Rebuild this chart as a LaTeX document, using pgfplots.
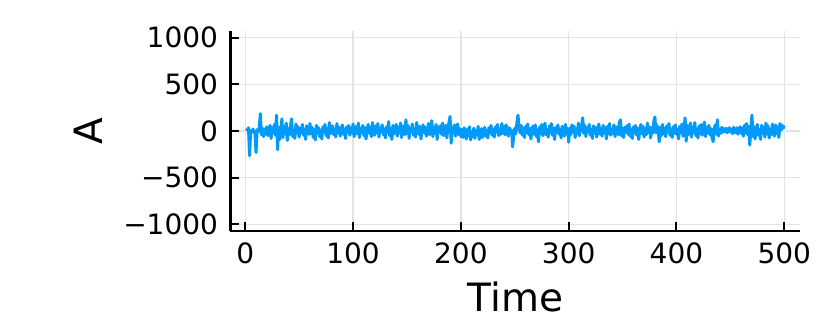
\documentclass[border=0pt]{standalone}
\usepackage{fontspec}
\setmainfont{DejaVu Sans}
\usepackage{pgfplots}
\usepackage{pgfplotstable}
\pgfplotsset{compat=1.18}
\definecolor{series1}{RGB}{0,154,250}

\pgfplotstableread[row sep=\\]{
y\\
25\\ 10\\ 35\\ -265\\ 5\\ -15\\ 20\\ 0\\ -25\\ -230\\
15\\ -10\\ 40\\ 185\\ -40\\ 30\\ -60\\ 20\\ -30\\ 45\\
-50\\ 10\\ 60\\ -80\\ 35\\ -20\\ 70\\ -45\\ 170\\ -200\\
40\\ -90\\ 20\\ 130\\ -70\\ 50\\ -30\\ 85\\ -100\\ 25\\
-40\\ 60\\ 130\\ -60\\ 10\\ -80\\ 75\\ -20\\ 45\\ -65\\
30\\ -15\\ 70\\ -45\\ 20\\ -90\\ 55\\ 5\\ -35\\ 80\\
-25\\ 40\\ -70\\ 15\\ -95\\ 60\\ -20\\ 35\\ -60\\ 10\\
-85\\ 45\\ -10\\ 70\\ -50\\ 25\\ -75\\ 90\\ -30\\ 15\\
55\\ -40\\ 20\\ -65\\ 80\\ -15\\ 40\\ -55\\ 5\\ 65\\
-35\\ 20\\ -80\\ 45\\ -10\\ 60\\ -45\\ 30\\ -20\\ 75\\
-60\\ 10\\ 50\\ -30\\ 85\\ -70\\ 25\\ -15\\ 60\\ -50\\
35\\ -85\\ 15\\ 70\\ -25\\ 40\\ -60\\ 90\\ -10\\ -45\\
55\\ -20\\ 80\\ -65\\ 30\\ -5\\ 65\\ -40\\ 20\\ -75\\
45\\ -15\\ 100\\ -50\\ 25\\ -90\\ 60\\ -30\\ 10\\ 70\\
-55\\ 35\\ -20\\ 85\\ -70\\ 15\\ 55\\ -40\\ 120\\ -25\\
60\\ -80\\ 30\\ -10\\ 75\\ -45\\ 20\\ -65\\ 90\\ 5\\
-35\\ 50\\ -85\\ 25\\ 65\\ -20\\ 40\\ -55\\ 15\\ 80\\
-40\\ 10\\ 110\\ -60\\ 35\\ -25\\ 70\\ -90\\ 45\\ -10\\
55\\ -35\\ 85\\ -50\\ 20\\ 60\\ -75\\ 30\\ 95\\ 155\\
-130\\ 40\\ -20\\ 65\\ -55\\ 10\\ 75\\ -40\\ 25\\ -60\\
15\\ -70\\ 35\\ -25\\ -85\\ 20\\ -50\\ 45\\ -95\\ -10\\
-60\\ 30\\ -80\\ 5\\ -40\\ 50\\ -90\\ -15\\ 25\\ -70\\
-30\\ 40\\ -55\\ 10\\ -75\\ 35\\ -20\\ 60\\ -45\\ 15\\
-65\\ 45\\ -10\\ 70\\ -50\\ 20\\ -35\\ 80\\ -25\\ 50\\
-40\\ 65\\ 15\\ -55\\ 35\\ -20\\ 10\\ -170\\ -60\\ 30\\
-30\\ 90\\ 170\\ 40\\ -20\\ 60\\ -45\\ 25\\ -70\\ 50\\
-15\\ 75\\ -40\\ 30\\ -85\\ 20\\ 55\\ -35\\ 65\\ -60\\
10\\ -115\\ 45\\ -25\\ 70\\ -50\\ 20\\ 85\\ -40\\ 15\\
-65\\ 55\\ -20\\ 80\\ -45\\ 30\\ -90\\ 40\\ -10\\ 65\\
-35\\ 20\\ -75\\ 50\\ 5\\ -55\\ 70\\ -30\\ 25\\ -120\\
30\\ -40\\ 65\\ -15\\ 50\\ -70\\ 20\\ -30\\ 85\\ -50\\
15\\ 45\\ 140\\ -25\\ 60\\ -60\\ 35\\ -10\\ 70\\ -45\\
20\\ -80\\ 55\\ -20\\ 40\\ -65\\ 10\\ 75\\ -35\\ 25\\
-55\\ 60\\ -15\\ 35\\ -85\\ 50\\ -30\\ 80\\ -45\\ 15\\
-25\\ 65\\ -60\\ 20\\ 45\\ -40\\ 90\\ 120\\ -50\\ 30\\
-70\\ 40\\ -10\\ 55\\ -35\\ 75\\ -55\\ 20\\ -80\\ 45\\
-20\\ 60\\ -45\\ 30\\ -90\\ 15\\ 70\\ -30\\ 50\\ -65\\
25\\ -40\\ 85\\ -15\\ 45\\ -75\\ 35\\ -25\\ 100\\ 150\\
-20\\ 60\\ 10\\ -115\\ 40\\ -50\\ 70\\ -30\\ 25\\ -60\\
55\\ -10\\ 80\\ -45\\ 20\\ -70\\ 45\\ -25\\ 65\\ -35\\
15\\ -85\\ 50\\ -20\\ 75\\ -55\\ 30\\ 140\\ -110\\ 60\\
-40\\ 25\\ 85\\ -65\\ 40\\ -15\\ 90\\ -50\\ 20\\ -75\\
55\\ -30\\ 70\\ -45\\ 15\\ 95\\ -60\\ 35\\ -20\\ 60\\
-40\\ 25\\ -70\\ -115\\ 30\\ 65\\ -35\\ 120\\ -55\\ 20\\
-25\\ 40\\ -15\\ 25\\ -5\\ 30\\ -20\\ 10\\ 35\\ -10\\
20\\ -30\\ 40\\ 5\\ -20\\ 35\\ -35\\ 15\\ 45\\ -25\\
30\\ -55\\ 60\\ -20\\ 80\\ -40\\ 50\\ -150\\ 20\\ 170\\
-60\\ 45\\ -85\\ 30\\ 70\\ -45\\ 15\\ -90\\ 60\\ -20\\
40\\ -65\\ 85\\ -30\\ 55\\ -75\\ 20\\ -40\\ 75\\ -10\\
-55\\ 65\\ -25\\ 45\\ -70\\ 80\\ 10\\ 60\\ 30\\ 60\\
}\seriesA

\begin{document}
\begin{tikzpicture}
\useasboundingbox (0,0) rectangle (830pt,332pt);
\begin{axis}[
  at={(230.2pt,101pt)}, anchor=south west,
  scale only axis,
  width=570.2pt, height=200pt,
  xmin=-13.97, xmax=514.97,
  ymin=-1070, ymax=1070,
  axis lines=left,
  axis line style={-, black, line width=2.6pt},
  tick align=inside,
  major tick length=9pt,
  tick style={black, line width=2pt},
  xtick={0,100,200,300,400,500},
  xticklabels={0,100,200,300,400,500},
  ytick={-1000,-500,0,500,1000},
  yticklabels={−1000,−500,0,500,1000},
  grid=major,
  grid style={black!11, line width=1.5pt},
  tick label style={font=\fontsize{28}{34}\selectfont, inner sep=0pt},
  x tick label style={anchor=north, yshift=-12pt},
  y tick label style={anchor=east, xshift=-12pt},
  label style={font=\fontsize{39}{47}\selectfont, inner sep=0pt},
  xlabel={Time},
  ylabel={A},
  xlabel style={at={(axis description cs:0.5,-0.4035)}, anchor=base},
  ylabel style={at={(axis description cs:-0.2245,0.5)}, anchor=base, rotate=0},
]
\addplot[series1, line width=3pt, line join=round, no marks]
  table[x expr=\coordindex+1, y=y] {\seriesA};
\end{axis}
\end{tikzpicture}
\end{document}
